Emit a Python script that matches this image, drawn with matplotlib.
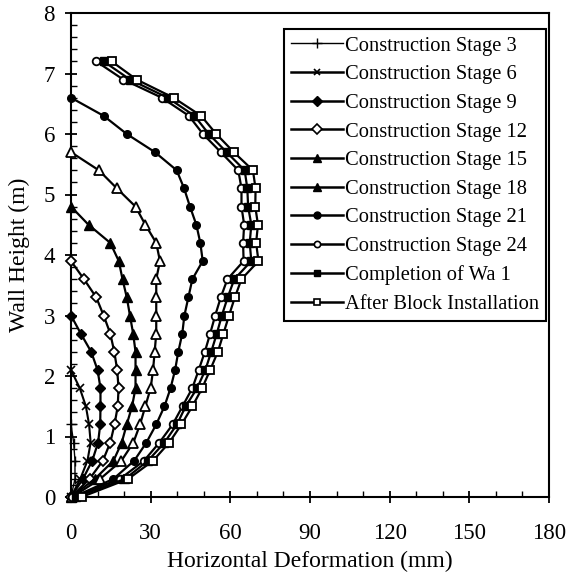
import matplotlib
matplotlib.use("Agg")
import matplotlib.pyplot as plt
from matplotlib.lines import Line2D
from matplotlib.ticker import MultipleLocator

plt.rcParams['font.family'] = ['Liberation Serif', 'DejaVu Serif']

heights = [0.0, 0.3, 0.6, 0.9, 1.2, 1.5, 1.8, 2.1, 2.4, 2.7, 3.0, 3.3, 3.6,
           3.9, 4.2, 4.5, 4.8, 5.1, 5.4, 5.7, 6.0, 6.3, 6.6, 6.9, 7.2]

stage3 = [0, 1.5, 1.5, 1.0, 0]
stage6 = [0, 3.5, 6.2, 7.4, 6.8, 5.6, 3.3, 0]
stage9 = [0, 4.5, 8.0, 10.2, 11.0, 11.1, 11.1, 10.0, 7.6, 3.7, 0]
stage12 = [0, 7.0, 12.0, 14.8, 16.4, 17.6, 17.9, 17.4, 16.3, 14.8, 12.3, 9.5, 4.9, 0]
stage15 = [0, 9.0, 16.0, 19.1, 21.0, 23.0, 24.3, 24.3, 24.3, 23.4, 22.2, 21.0,
           19.4, 18.0, 14.8, 6.6, 0]
stage18 = [0.5, 11.0, 19.0, 23.5, 26.0, 28.0, 30.0, 30.9, 31.5, 32.1, 32.1, 32.1,
           32.1, 33.5, 32.1, 28.0, 24.3, 17.3, 10.5, 0]
stage21 = [1.0, 16.0, 23.8, 28.4, 32.1, 35.2, 37.5, 39.2, 40.4, 41.9, 42.7, 44.2,
           45.7, 49.6, 48.7, 47.2, 44.8, 42.6, 39.8, 31.6, 21.0, 12.3, 0]
stage24 = [0.5, 18.5, 27.5, 33.3, 38.3, 42.0, 45.7, 48.1, 50.4, 52.4, 54.3, 56.4,
           58.9, 65.0, 64.8, 65.2, 64.2, 64.2, 63.0, 56.4, 49.7, 44.4, 34.2, 19.7, 9.5]
completion = [2.0, 20.4, 29.0, 35.2, 39.9, 43.2, 47.5, 50.6, 52.8, 54.9, 56.8, 59.0,
              61.5, 67.9, 67.3, 67.9, 66.7, 66.4, 65.4, 58.6, 51.9, 46.5, 36.4, 22.2, 12.3]
after_block = [4.0, 21.6, 30.9, 37.0, 41.6, 45.7, 49.4, 52.4, 55.3, 57.4, 59.5, 61.7,
               64.2, 70.6, 69.7, 70.4, 69.4, 69.5, 68.5, 61.3, 54.7, 49.0, 38.6, 24.7, 15.3]

labels = ["Construction Stage 3", "Construction Stage 6", "Construction Stage 9",
          "Construction Stage 12", "Construction Stage 15", "Construction Stage 18",
          "Construction Stage 21", "Construction Stage 24", "Completion of Wa 1",
          "After Block Installation"]
series = [stage3, stage6, stage9, stage12, stage15, stage18, stage21, stage24,
          completion, after_block]

styles = [
    dict(marker='+', mfc='black', ms=7, lw=1.0, mew=1.0),
    dict(marker='x', mfc='black', ms=6, lw=1.5, mew=1.2),
    dict(marker='D', mfc='black', ms=5, lw=1.6, mew=1.0),
    dict(marker='D', mfc='white', ms=5, lw=1.6, mew=1.3),
    dict(marker='^', mfc='black', ms=6.5, lw=1.6, mew=1.0),
    dict(marker='^', mfc='white', ms=6.5, lw=1.6, mew=1.3),
    dict(marker='o', mfc='black', ms=5.5, lw=1.6, mew=1.0),
    dict(marker='o', mfc='white', ms=5.5, lw=1.6, mew=1.3),
    dict(marker='s', mfc='black', ms=5.5, lw=1.6, mew=1.0),
    dict(marker='s', mfc='white', ms=5.5, lw=1.6, mew=1.3),
]
legend_styles = [
    dict(marker='+', mfc='black', ms=7, lw=1.0, mew=1.0),
    dict(marker='x', mfc='black', ms=5, lw=1.8, mew=1.2),
    dict(marker='D', mfc='black', ms=5, lw=1.8, mew=1.0),
    dict(marker='D', mfc='white', ms=5, lw=1.8, mew=1.2),
    dict(marker='^', mfc='black', ms=6, lw=1.8, mew=1.0),
    dict(marker='^', mfc='black', ms=6, lw=1.8, mew=1.0),
    dict(marker='o', mfc='black', ms=5, lw=1.8, mew=1.0),
    dict(marker='o', mfc='white', ms=4.5, lw=1.8, mew=1.2),
    dict(marker='s', mfc='black', ms=5, lw=1.8, mew=1.0),
    dict(marker='s', mfc='white', ms=5, lw=1.8, mew=1.2),
]

fig = plt.figure(figsize=(5.71, 5.77), dpi=100)
ax = fig.add_axes([71 / 571, 1 - 497 / 577, (549 - 71) / 571, (497 - 13) / 577])

for vals, st in zip(series, styles):
    ax.plot(vals, heights[:len(vals)], color='black', marker=st['marker'],
            markerfacecolor=st['mfc'], markeredgecolor='black', markersize=st['ms'],
            linewidth=st['lw'], markeredgewidth=st['mew'], clip_on=False, zorder=3)

ax.set_xlim(0, 180)
ax.set_ylim(0, 8)
ax.xaxis.set_major_locator(MultipleLocator(30))
ax.xaxis.set_minor_locator(MultipleLocator(10))
ax.yaxis.set_major_locator(MultipleLocator(1))
ax.yaxis.set_minor_locator(MultipleLocator(0.2))
ax.tick_params(which='major', direction='inout', length=9, width=1.3,
               labelsize=16.5, top=False, right=False)
ax.tick_params(axis='x', which='major', pad=14)
ax.tick_params(axis='y', which='major', pad=7)
ax.tick_params(which='minor', direction='in', length=4, width=1.0, top=False, right=False)
for sp in ax.spines.values():
    sp.set_linewidth(1.5)

ax.set_xlabel("Horizontal Deformation (mm)", fontsize=17, labelpad=5)
ax.set_ylabel("Wall Height (m)", fontsize=17, labelpad=10)

handles = [Line2D([], [], color='black', marker=st['marker'], markerfacecolor=st['mfc'],
                  markeredgecolor='black', markersize=st['ms'], linewidth=st['lw'],
                  markeredgewidth=st['mew']) for st in legend_styles]
leg = ax.legend(handles, labels, loc='upper left',
                bbox_to_anchor=(284 / 571, 1 - 29 / 577), bbox_transform=fig.transFigure,
                fontsize=14.8, frameon=True, fancybox=False, borderaxespad=0,
                borderpad=0.35, labelspacing=0.45, handlelength=2.5, handletextpad=0.1,
                edgecolor='black', framealpha=1)
leg.get_frame().set_linewidth(1.5)

fig.savefig("out.png", dpi=100)
